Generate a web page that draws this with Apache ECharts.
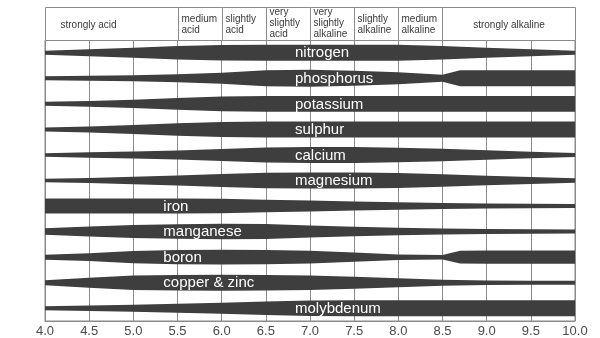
<!DOCTYPE html>
<html><head><meta charset="utf-8">
<script src="https://cdn.jsdelivr.net/npm/echarts@6/dist/echarts.min.js"></script>
<style>html,body{margin:0;padding:0;background:#fff}#c{width:600px;height:338px}</style>
</head><body><div id="c"></div>
<script>
// ---- data ----
const nutrients = ['nitrogen','phosphorus','potassium','sulphur','calcium','magnesium','iron','manganese','boron','copper & zinc','molybdenum'];
// [pH, relative band thickness] readings
const nitrogen   = [[4,4],[4.5,7],[5,10],[5.5,13.5],[6,15.5],[6.5,16],[7,16],[7.5,16],[8,16],[8.5,13.5],[9,10],[9.5,7],[10,4]];
const phosphorus = [[4,4],[4.5,5],[5,6],[5.5,8],[6,11],[6.5,16],[7,17],[7.5,15],[8,12],[8.5,7],[8.7,16],[9,16],[9.5,16],[10,16]];
const potassium  = [[4,4],[4.5,6],[5,8.5],[5.5,12],[6,15],[6.5,16],[7,16],[8,16],[9,16],[10,16]];
const sulphur    = [[4,4],[4.5,6],[5,9],[5.5,12.5],[6,15],[6.5,16],[7,16],[8,16],[9,16],[10,16]];
const calcium    = [[4,3.5],[4.5,5.5],[5,7],[5.5,9],[6,12],[6.5,15],[7,16],[7.5,16],[8,14.5],[8.5,12.5],[9,9.5],[9.5,6.5],[10,4]];
const magnesium  = [[4,3.5],[4.5,5],[5,7.5],[5.5,10],[6,13],[6.5,15.5],[7,16],[7.5,16],[8,15],[8.5,12.5],[9,9.5],[9.5,7],[10,4.5]];
const iron       = [[4,15],[4.5,15],[5,15],[5.5,15],[6,14.5],[6.5,12.5],[7,11],[7.5,9],[8,7.5],[8.5,6],[9,5],[9.5,4.5],[10,4]];
const manganese  = [[4,6.5],[4.5,10],[5,13],[5.5,14.5],[6,15.5],[6.5,15],[7,12],[7.5,9.5],[8,7.5],[8.5,6],[9,5],[9.5,4.5],[10,4]];
const boron      = [[4,5],[4.5,8],[5,12.5],[5.5,14.5],[6,15],[6.5,14.5],[7,13],[7.5,9.5],[8,5.5],[8.5,4.5],[8.7,13],[9,13.5],[9.5,13.5],[10,13.5]];
const copperZinc = [[4,5],[4.5,10],[5,14.5],[5.5,15.5],[6,16],[6.5,15.5],[7,14.5],[7.5,12],[8,9],[8.5,6],[9,4.5],[9.5,4],[10,4]];
const molybdenum = [[4,4],[4.5,5.5],[5,7],[5.5,9],[6,11],[6.5,13.5],[7,15.5],[7.5,16],[8,16],[9,16],[10,16]];
const profiles = [nitrogen, phosphorus, potassium, sulphur, calcium, magnesium, iron, manganese, boron, copperZinc, molybdenum];

const zoneStart  = [4.0, 5.5, 6.0, 6.5, 7.0, 7.5, 8.0, 8.5];
const zoneEnd    = [5.5, 6.0, 6.5, 7.0, 7.5, 8.0, 8.5, 10.0];
const zoneLabels = ['strongly acid','medium\nacid','slightly\nacid','very\nslightly\nacid','very\nslightly\nalkaline','slightly\nalkaline','medium\nalkaline','strongly alkaline'];

const phMin = 4, phMax = 10, phStep = 0.5;

// ---- rendering ----
const FONT = '"Liberation Sans", Arial, Helvetica, sans-serif';
const FULL = 25.65; // thickness units per row height
const chart = echarts.init(document.getElementById('c'));

function renderBand(params, api) {
  const r = api.value(1);
  const pts = profiles[r];
  const k = api.size([0, 1])[1] / FULL / 2;
  const top = [], bot = [];
  pts.forEach(function (p) {
    const c = api.coord([p[0], r]);
    top.push([c[0], c[1] - p[1] * k]);
    bot.unshift([c[0], c[1] + p[1] * k]);
  });
  const lp = api.coord([(r >= 6 && r <= 9) ? 5.34 : 6.83, r]);
  return {
    type: 'group',
    children: [
      { type: 'polygon', shape: { points: top.concat(bot) }, style: { fill: '#3e3e3e' } },
      { type: 'text', x: lp[0], y: lp[1] + 0.5,
        style: { text: nutrients[r], fill: '#ffffff', font: '15px ' + FONT, align: 'left', verticalAlign: 'middle' } }
    ]
  };
}

function renderZone(params, api) {
  const i = api.value(3);
  const a = api.coord([api.value(0), 1]);
  const b = api.coord([api.value(1), 0]);
  const x0 = Math.round(a[0]) + 0.5, y0 = Math.round(a[1]) + 0.5;
  const x1 = Math.round(b[0]) + 0.5, y1 = Math.round(b[1]) + 0.5;
  const w = x1 - x0;
  let tx, align;
  if (i === zoneStart.length - 1) { tx = (x0 + x1) / 2; align = 'center'; }
  else if (w > 100) { tx = x0 + 15; align = 'left'; }
  else { tx = x0 + 3; align = 'left'; }
  const lines = zoneLabels[i].split('\n').length;
  const ty = (y0 + y1) / 2 + (lines === 1 ? 1.5 : lines === 2 ? 0.5 : -0.5);
  return {
    type: 'group',
    children: [
      { type: 'rect', shape: { x: x0, y: y0, width: w, height: y1 - y0 },
        style: { fill: '#fff', stroke: '#8a8a8a', lineWidth: 1 } },
      { type: 'text', x: tx, y: ty,
        style: { text: zoneLabels[i], fill: '#3a3a3a', font: '10px ' + FONT, align: align, verticalAlign: 'middle', lineHeight: 11 } }
    ]
  };
}

chart.setOption({
  animation: false,
  backgroundColor: '#fff',
  grid: [
    { left: 45, right: 25, top: 40, bottom: 17, show: true, borderColor: '#8a8a8a', borderWidth: 1 },
    { left: 45, right: 25, top: 7, height: 33 }
  ],
  xAxis: [
    { type: 'value', gridIndex: 0, min: phMin, max: phMax, interval: phStep,
      axisLine: { show: true, lineStyle: { color: '#8a8a8a' } },
      axisTick: { show: false },
      splitLine: { show: true, lineStyle: { color: '#8a8a8a', width: 1 } },
      axisLabel: { color: '#4a4a4a', fontSize: 13, fontFamily: FONT, margin: 4,
        formatter: function (v) { return v.toFixed(1); } } },
    { type: 'value', gridIndex: 1, min: phMin, max: phMax, show: false }
  ],
  yAxis: [
    { type: 'category', gridIndex: 0, data: nutrients, inverse: true,
      axisLine: { show: false }, axisTick: { show: false }, axisLabel: { show: false }, splitLine: { show: false } },
    { type: 'value', gridIndex: 1, min: 0, max: 1, show: false }
  ],
  series: [
    { type: 'custom', xAxisIndex: 0, yAxisIndex: 0, renderItem: renderBand, clip: false,
      encode: { x: 0, y: 1 },
      data: nutrients.map(function (n, i) { return [phMin, i]; }) },
    { type: 'custom', xAxisIndex: 1, yAxisIndex: 1, renderItem: renderZone, clip: false,
      encode: { x: [0, 1], y: 2 },
      data: zoneStart.map(function (s, i) { return [s, zoneEnd[i], 0.5, i]; }) }
  ]
});
</script></body></html>
